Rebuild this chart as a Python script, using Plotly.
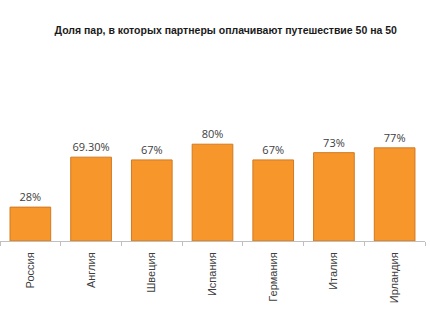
import plotly.graph_objects as go

categories = ["Россия", "Англия", "Швеция", "Испания", "Германия", "Италия", "Ирландия"]
values = [28, 69.3, 67, 80, 67, 73, 77]
value_labels = ["28%", "69.30%", "67%", "80%", "67%", "73%", "77%"]

fig = go.Figure()
fig.add_trace(go.Bar(
    x=categories, y=values, text=value_labels, textposition="outside",
    textfont=dict(family="Open Sans, Liberation Sans, sans-serif", size=11, color="#404040"),
    cliponaxis=False,
    marker=dict(color="#F7962A", line=dict(color="#D07A22", width=1)),
))
fig.update_layout(
    width=430, height=323,
    margin=dict(l=0, r=5, t=120, b=82),
    paper_bgcolor="white", plot_bgcolor="white",
    bargap=0.33, showlegend=False,
    title=dict(text="<b>Доля пар, в которых партнеры оплачивают путешествие 50 на 50</b>",
               x=0.525, xanchor="center", y=0.905, yanchor="middle",
               font=dict(family="Liberation Sans, Arial, sans-serif", size=10.5, color="#1a1a1a")),
    xaxis=dict(showline=True, linecolor="#BFBFBF", linewidth=1, ticks="outside",
               tickson="boundaries", ticklen=4, tickcolor="#BFBFBF", tickangle=-90,
               ticklabelstandoff=6,
               tickfont=dict(family="Liberation Sans, Arial, sans-serif", size=11, color="#404040")),
    yaxis=dict(visible=False, range=[0, 100]),
)
fig.write_html("out.html")
